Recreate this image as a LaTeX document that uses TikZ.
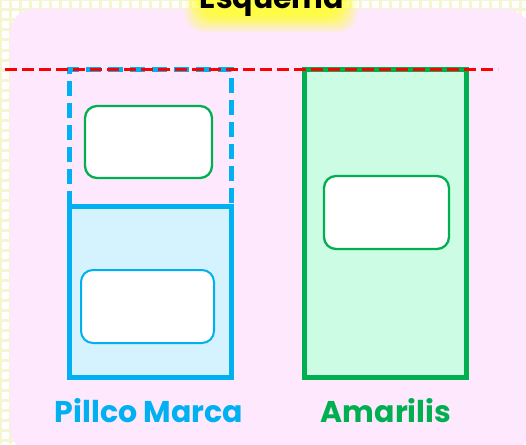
\documentclass[tikz,border=0pt]{standalone}
\usepackage{fontspec}
\setmainfont{Poppins}
\definecolor{gridc}{HTML}{F5F5D2}
\definecolor{pinkbg}{HTML}{FDE8FD}
\definecolor{pblue}{HTML}{00B0F0}
\definecolor{pbluefill}{HTML}{D4F3FE}
\definecolor{pgreen}{HTML}{00B050}
\definecolor{pgreenfill}{HTML}{CCFCE3}
\definecolor{glow}{HTML}{FFFF33}
\tikzset{
  outerbox/.style={line width=5pt},
  innerbox/.style={fill=white, rounded corners=12pt, line width=2.3pt},
  lbl/.style={font=\bfseries\fontsize{30}{34}\selectfont, inner sep=0pt, anchor=base},
}
\begin{document}
\begin{tikzpicture}[x=1pt,y=-1pt]
\useasboundingbox (0,0) rectangle (526,444);
\clip (0,0) rectangle (526,444);
% grid paper
\fill[white] (0,0) rectangle (526,444);
\foreach \i in {0,10,...,530} {\draw[gridc, line width=3pt] (\i,0) -- (\i,444);}
\foreach \j in {0,10,...,450} {\draw[gridc, line width=3pt] (0,\j) -- (526,\j);}
% pink panel
\fill[pinkbg, rounded corners=24pt] (10,9) rectangle (530,452);
% title glow
\foreach \k/\o in {0/0.15,3/0.2,6/0.25,9/0.3,12/0.4,16/0.5} {
  \fill[glow, opacity=\o, rounded corners=18pt] (185+\k,-20) rectangle (357-\k,32-\k);
}
\node[font=\bfseries\fontsize{30}{34}\selectfont, inner sep=0pt, anchor=base] (title) at (272,9) {Esquema};
% Pillco Marca
\fill[pbluefill] (69,206) rectangle (231,377);
\draw[pblue, outerbox, dash pattern=on 15pt off 7pt] (69,206) -- (69,69) -- (231,69) -- (231,206);
\draw[pblue, outerbox] (69,206) rectangle (231,377);
\node[draw=pgreen, innerbox, minimum width=127pt, minimum height=72pt] (pa) at (148.5,142) {};
\node[draw=pblue, innerbox, line width=2pt, minimum width=133pt, minimum height=73pt] (pb) at (147.5,306.5) {};
% Amarilis
\draw[pgreen, outerbox, fill=pgreenfill] (304,69) rectangle (466,377);
\node[draw=pgreen, innerbox, minimum width=125pt, minimum height=73pt] (am) at (386.5,212.5) {};
% red line
\draw[red, line width=3.5pt, dash pattern=on 12pt off 5pt] (5,69.5) -- (498,69.5);
% labels
\node[lbl, text=pblue] (l1) at (149,422) {Pillco Marca};
\node[lbl, text=pgreen] (l2) at (386,422) {Amarilis};
\end{tikzpicture}
\end{document}
